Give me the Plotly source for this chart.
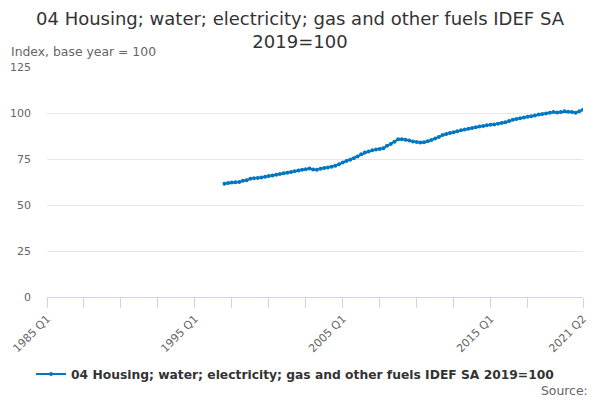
import plotly.graph_objects as go

# Categories: quarters 1985 Q1 .. 2021 Q2
quarters = [f"{y} Q{q}" for y in range(1985, 2022) for q in range(1, 5)]
quarters = quarters[:quarters.index("2021 Q2") + 1]

series_name = "04 Housing; water; electricity; gas and other fuels IDEF SA 2019=100"
start_quarter = "1997 Q1"
values = [
    61.5, 61.9, 62.2, 62.3,   # 1997
    62.5, 63.2, 63.5, 64.2,   # 1998
    64.6, 64.7, 64.9, 65.4,   # 1999
    65.8, 66.0, 66.4, 66.9,   # 2000
    67.2, 67.5, 68.0, 68.4,   # 2001
    68.8, 69.1, 69.4, 69.8,   # 2002
    69.3, 69.2, 69.7, 70.1,   # 2003
    70.4, 70.8, 71.3, 72.2,   # 2004
    73.1, 73.9, 74.6, 75.4,   # 2005
    76.4, 77.6, 78.5, 79.1,   # 2006
    79.7, 80.1, 80.4, 80.9,   # 2007
    82.2, 83.2, 84.4, 85.7,   # 2008
    85.8, 85.4, 85.0, 84.5,   # 2009
    84.2, 83.9, 84.1, 84.6,   # 2010
    85.3, 86.2, 87.0, 88.0,   # 2011
    88.6, 89.1, 89.6, 90.1,   # 2012
    90.6, 91.0, 91.4, 91.8,   # 2013
    92.3, 92.7, 93.0, 93.3,   # 2014
    93.6, 93.8, 94.1, 94.5,   # 2015
    95.0, 95.6, 96.3, 96.7,   # 2016
    97.2, 97.6, 97.9, 98.3,   # 2017
    98.7, 99.2, 99.5, 99.7,   # 2018
    100.1, 100.5, 100.3, 100.5,  # 2019
    100.9, 100.7, 100.6, 100.2,  # 2020
    100.9, 101.8,             # 2021
]
y_ticks = [0, 25, 50, 75, 100, 125]
x_labels = ["1985 Q1", "1995 Q1", "2005 Q1", "2015 Q1", "2021 Q2"]
title_text = "04 Housing; water; electricity; gas and other fuels IDEF SA<br>2019=100"

start_idx = quarters.index(start_quarter)
full_values = [None] * start_idx + values

tick_idx = list(range(0, 131, 10)) + [len(quarters) - 1]
tickvals = [quarters[i] for i in tick_idx]
ticktext = [q if q in x_labels else "" for q in tickvals]

color = "#0077c0"
font = "DejaVu Sans, Verdana, sans-serif"

L, R, T, B = 47, 17, 67, 103
PW, PH = 600 - L - R, 400 - T - B


def px_x(x):
    return (x - L) / PW


def px_y(y):
    return (400 - B - y) / PH


fig = go.Figure()
fig.add_trace(go.Scatter(
    x=quarters, y=full_values, mode="lines+markers", name=series_name,
    line=dict(color=color, width=2),
    marker=dict(color=color, size=4, symbol="circle"),
    connectgaps=False,
))

fig.update_layout(
    width=600, height=400,
    margin=dict(l=L, r=R, t=T, b=B, autoexpand=False),
    paper_bgcolor="white", plot_bgcolor="white",
    font=dict(family=font, color="#666666", size=11),
    showlegend=True,
    legend=dict(
        orientation="h", x=px_x(31), xanchor="left", y=px_y(374), yanchor="middle",
        font=dict(family=font, size=12.3, color="#333333", weight="bold"),
        itemwidth=30,
    ),
    xaxis=dict(
        type="category", categoryorder="array", categoryarray=quarters,
        range=[0, len(quarters) - 1], automargin=False,
        tickmode="array", tickvals=tickvals, ticktext=ticktext,
        tickangle=-45, ticks="outside", ticklen=10, tickcolor="#ccd6eb",
        showgrid=False, showline=True, linecolor="#ccd6eb", linewidth=1,
        tickfont=dict(size=11, color="#666666"),
        zeroline=False, fixedrange=True,
    ),
    yaxis=dict(
        range=[0, 125], tickvals=y_ticks, automargin=False,
        showgrid=True, gridcolor="#e6e6e6", gridwidth=1,
        zeroline=False, showline=False, ticks="",
        tickfont=dict(size=11, color="#666666"),
        ticklabelstandoff=15, fixedrange=True,
    ),
    annotations=[
        dict(text=title_text, xref="paper", yref="paper",
             x=px_x(300), y=px_y(6), xanchor="center", yanchor="top",
             showarrow=False, align="center",
             font=dict(size=18, color="#333333", family=font)),
        dict(text="Index, base year = 100", xref="paper", yref="paper",
             x=px_x(9), y=px_y(52), xanchor="left", yanchor="middle", showarrow=False,
             font=dict(size=12.4, color="#666666", family=font)),
        dict(text="Source:", xref="paper", yref="paper",
             x=px_x(590), y=px_y(390), xanchor="right", yanchor="middle", showarrow=False,
             font=dict(size=12.4, color="#666666", family=font)),
    ],
)

fig.write_html("out.html", config={"displayModeBar": False},
               post_script="document.body.style.margin='0';")
